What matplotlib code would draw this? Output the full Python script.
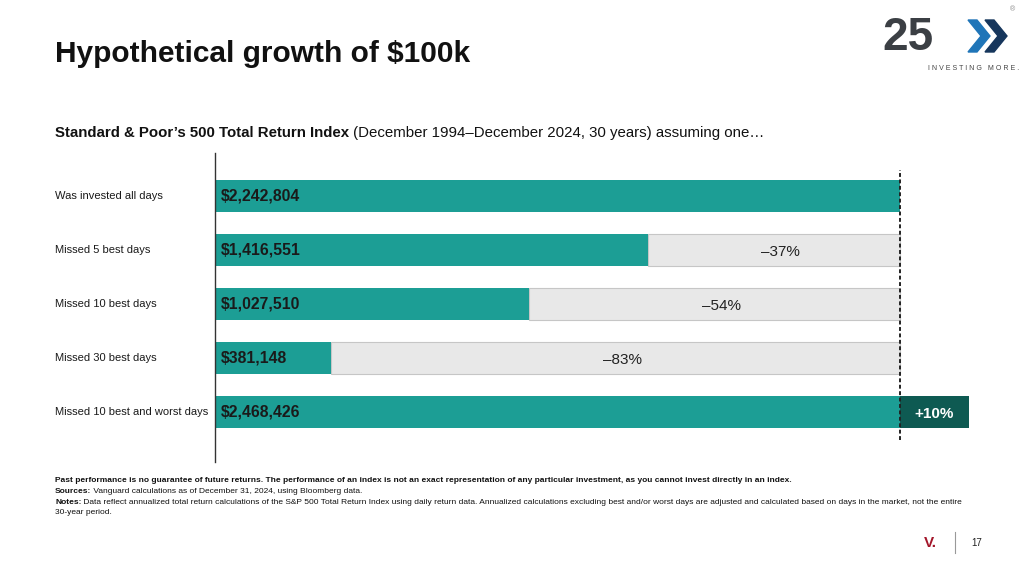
import matplotlib
matplotlib.use('Agg')
import matplotlib.pyplot as plt
from matplotlib.patches import Polygon
import numpy as np

plt.rcParams['font.family'] = ['Liberation Sans', 'DejaVu Sans']

categories = ["Was invested all days", "Missed 5 best days", "Missed 10 best days",
              "Missed 30 best days", "Missed 10 best and worst days"]
values = [2242804, 1416551, 1027510, 381148, 2468426]
value_labels = ["$2,242,804", "$1,416,551", "$1,027,510", "$381,148", "$2,468,426"]
pct_labels = ["", "\u201337%", "\u201354%", "\u201383%", "+10%"]

teal = "#1c9e95"
dark_teal = "#0e5a52"
grey = "#e8e8e8"
grey_edge = "#c6c6c6"

full = values[0]
W, H = 1024, 576
fig = plt.figure(figsize=(10.24, 5.76), dpi=100)

# axes in pixel terms: x 215..985, y 153..462
ax = fig.add_axes([215 / W, 1 - 462 / H, 770 / W, 309 / H])
ax.set_xlim(0, full * 770 / 685)
ax.set_ylim(-0.796 + 309 / 54, -0.796)
y = np.arange(len(categories))
h = 0.61

for i, v in enumerate(values):
    if v < full:
        ax.barh(y[i], full - v, left=v, height=h, color=grey, edgecolor=grey_edge, linewidth=0.8, zorder=1)
        ax.barh(y[i], v, height=h, color=teal, zorder=2)
        ax.text((v + full) / 2 + full * 0.01, y[i] + 0.03, pct_labels[i], ha='center', va='center',
                fontsize=11, color='#222222')
    elif v > full:
        ax.barh(y[i], full, height=h, color=teal, zorder=2)
        ax.barh(y[i], v - full, left=full, height=h, color=dark_teal, zorder=2)
        ax.text((v + full) / 2, y[i] + 0.03, pct_labels[i], ha='center', va='center', fontsize=11,
                color='white', fontweight='bold', zorder=4)
    else:
        ax.barh(y[i], v, height=h, color=teal, zorder=2)
    ax.text(full * 0.008, y[i], value_labels[i], ha='left', va='center', fontsize=11.3,
            fontweight='bold', color='#1a1a1a', zorder=4)

ax.axvline(full, ymin=0.071, ymax=0.945, color='#222222', linestyle=(0, (2, 1.3)), linewidth=1.4, zorder=3)

for s in ['top', 'right', 'bottom']:
    ax.spines[s].set_visible(False)
ax.spines['left'].set_color('#333333')
ax.spines['left'].set_linewidth(1.0)
ax.set_xticks([])
ax.set_yticks(y)
ax.set_yticklabels([])
ax.tick_params(axis='y', length=0)
for i, c in enumerate(categories):
    ax.annotate(c, xy=(0, y[i]), xycoords=('axes fraction', 'data'), xytext=(55 / W, 0),
                textcoords=('figure fraction', 'offset points'), ha='left', va='center',
                fontsize=8, color='#1a1a1a')

# title and subtitle
fig.text(55 / W, 1 - 54 / H, "Hypothetical growth of $100k", fontsize=21.5, fontweight='bold',
         ha='left', va='center', color='#111111')
t = fig.text(55 / W, 1 - 133 / H, "Standard & Poor\u2019s 500 Total Return Index", fontsize=10.8,
             fontweight='bold', ha='left', va='center', color='#111111')
ax.annotate(" (December 1994\u2013December 2024, 30 years) assuming one\u2026", xy=(1, 0.5), xycoords=t,
            ha='left', va='center', fontsize=10.8, color='#111111', annotation_clip=False)

# footnotes
fs = 6.0
fig.text(55 / W, 1 - 481 / H, "Past performance is no guarantee of future returns. The performance of an index is not an exact "
         "representation of any particular investment, as you cannot invest directly in an index.",
         fontsize=fs, fontweight='bold', ha='left', va='center', color='#111111')
s1 = fig.text(55 / W, 1 - 491.5 / H, "Sources:", fontsize=fs, fontweight='bold', ha='left', va='center', color='#111111')
ax.annotate(" Vanguard calculations as of December 31, 2024, using Bloomberg data.", xy=(1, 0.5), xycoords=s1,
            ha='left', va='center', fontsize=fs, color='#111111', annotation_clip=False)
s2 = fig.text(55 / W, 1 - 502 / H, "Notes:", fontsize=fs, fontweight='bold', ha='left', va='center', color='#111111')
ax.annotate(" Data reflect annualized total return calculations of the S&P 500 Total Return Index using daily return data. "
            "Annualized calculations excluding best and/or worst days are adjusted and calculated based on days in the market, not the entire",
            xy=(1, 0.5), xycoords=s2, ha='left', va='center', fontsize=fs, color='#111111', annotation_clip=False)
fig.text(55 / W, 1 - 513 / H, "30-year period.", fontsize=fs, ha='left', va='center', color='#111111')

# logo approximation
fig.text(882 / W, 1 - 38 / H, "25", fontsize=33, fontweight='bold', ha='left', va='center', color='#3b3f44')
def chevron(x0, col):
    pts = [(x0, 20), (x0 + 9, 20), (x0 + 22, 36), (x0 + 9, 52), (x0, 52), (x0 + 13, 36)]
    fig.add_artist(Polygon([(px / W, 1 - py / H) for px, py in pts], closed=True, color=col,
                           transform=fig.transFigure))
chevron(968, '#1f75b8')
chevron(985, '#16365c')
fig.text(1013 / W, 1 - 10 / H, "\u00ae", fontsize=5, ha='center', va='center', color='#888888')
fig.text(928 / W, 1 - 69 / H, "I N V E S T I N G   M O R E .", fontsize=5, ha='left', va='center', color='#444444')

# page footer
fig.text(930 / W, 1 - 543 / H, "V.", fontsize=11, fontweight='bold', ha='center', va='center', color='#a3162a')
fig.add_artist(plt.Line2D([955 / W, 955 / W], [1 - 532 / H, 1 - 553 / H], color='#999999', linewidth=0.8))
fig.text(971 / W, 1 - 543 / H, "17", fontsize=7, ha='left', va='center', color='#222222')

fig.savefig("out.png", dpi=100)
